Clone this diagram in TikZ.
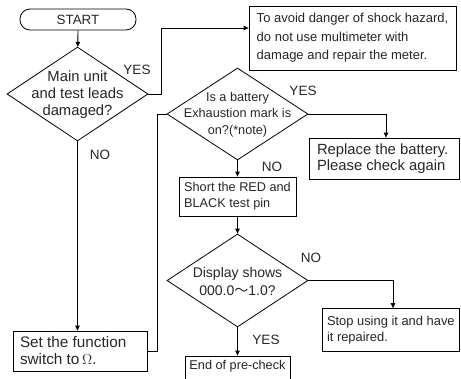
\documentclass[tikz,border=0pt]{standalone}
\usepackage{fontspec}
\setmainfont{Liberation Sans}
\newfontfamily\cjkfont{Noto Sans CJK JP}
\usetikzlibrary{arrows.meta,shapes.geometric}
\begin{document}
\begin{tikzpicture}[x=1pt,y=-1pt,
  line width=0.8pt,
  arr/.style={-{Triangle[length=5pt,width=4.5pt]}},
  box/.style={draw, rectangle, inner sep=0pt, align=left, text=black!85},
  dia/.style={draw, diamond, inner sep=0pt},
  lbl/.style={inner sep=0pt, text=black!85, font=\fontsize{13.5}{15}\selectfont},
  txt/.style={inner sep=0pt, align=center, text=black!85},
  ltxt/.style={inner sep=0pt, align=left, anchor=west, text=black!85}]
\useasboundingbox (0,0) rectangle (461,378);
\clip (0,0) rectangle (461,378);

% start
\node[draw, rounded corners=10pt, minimum width=116pt, minimum height=21pt, inner sep=0pt,
      text=black!85, font=\fontsize{13.4}{15}\selectfont] (start) at (78,19.5) {START};

% diamond 1
\node[dia, minimum width=141pt, minimum height=94pt] (d1) at (77.5,94) {};
\node[txt, font=\fontsize{14.8}{17}\selectfont] (d1t) at (77.5,95) {Main unit\\and test leads\\damaged?};
\node[lbl] (yes1) at (137,70) {YES};
\node[lbl] (no1) at (100,155) {NO};

% warning box
\node[box, minimum width=207pt, minimum height=64pt,
      font=\fontsize{13}{18.5}\selectfont] (box1) at (352.5,38)
  {To avoid danger of shock hazard,\\do not use multimeter with\\damage and repair the meter.};

% set function box
\node[box, minimum width=134pt, minimum height=40pt] (fset) at (80,351) {};
\node[ltxt, font=\fontsize{15.3}{17}\selectfont] (fsett) at ([xshift=7pt]fset.west)
  {Set the function\\switch to\,$\Omega$.};

% diamond 2
\node[dia, minimum width=141pt, minimum height=92pt] (d2) at (237.5,114) {};
\node[txt, font=\fontsize{12.7}{16.5}\selectfont] (d2t) at (237.5,114.5) {Is a battery\\Exhaustion mark is\\on?(*note)};
\node[lbl] (yes2) at (303,91) {YES};
\node[lbl] (no2) at (272,167) {NO};

% replace box
\node[box, minimum width=150pt, minimum height=41pt] (rep) at (384,158.5) {};
\node[ltxt, font=\fontsize{14.8}{16}\selectfont] (rept) at ([xshift=8pt]rep.west)
  {Replace the battery.\\Please check again};

% short box
\node[box, minimum width=117pt, minimum height=39pt,
      font=\fontsize{12.7}{16}\selectfont] (short) at (237.5,196.5)
  {Short the RED and\\BLACK test pin};

% diamond 3
\node[dia, minimum width=141pt, minimum height=93pt] (d3) at (237.5,280.5) {};
\node[txt, font=\fontsize{14}{18}\selectfont] (d3t) at (237.5,281) {Display shows\\000.0{\cjkfont ～}1.0?};
\node[lbl] (no3) at (311,258) {NO};
\node[lbl] (yes3) at (266,340) {YES};

% stop box
\node[box, minimum width=137pt, minimum height=43pt] (stop) at (390.5,330) {};
\node[ltxt, font=\fontsize{12.9}{16}\selectfont] (stopt) at ([xshift=5pt]stop.west)
  {Stop using it and have\\it repaired.};

% end box
\node[draw, rectangle, minimum width=105pt, minimum height=28pt, inner sep=0pt] (endb) at (237.5,370) {};
\node[txt, font=\fontsize{12.7}{15}\selectfont] (endt) at (237.5,366.5) {End of pre-check};

% connectors
\coordinate (c1) at (161,28);
\coordinate (c2) at (157,115);
\draw[arr] (start) -- (d1);
\draw[arr] (d1.east) -| (c1) -- (c1 -| box1.west);
\draw[arr] (d1.south) -- (d1.south |- fset.north);
\draw (fset.east) -| (c2 |- d2.west) -- (d2.west);
\draw[arr] (d2.east) -| ([xshift=2pt]rep.north);
\draw[arr] (d2.south) -- (d2.south |- short.north);
\draw[arr] (short.south) -- (d3.north);
\draw[arr] (d3.east) -| ([xshift=2.5pt]stop.north);
\draw[arr] (d3.south) -- (d3.south |- endb.north);
\end{tikzpicture}
\end{document}
